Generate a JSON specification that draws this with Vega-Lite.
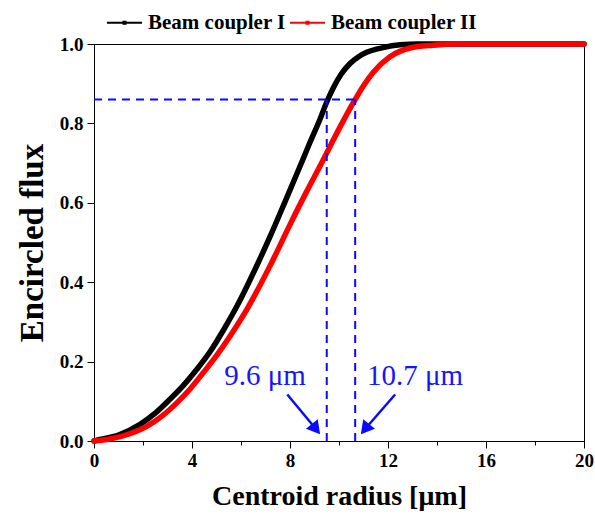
{
  "$schema": "https://vega.github.io/schema/vega-lite/v6.json",
  "width": 490,
  "height": 397,
  "autosize": "none",
  "padding": {"left": 94, "top": 44, "right": 11, "bottom": 80},
  "background": "white",
  "config": {
    "view": {"stroke": "#000", "strokeWidth": 1},
    "font": "Liberation Serif"
  },
  "datasets": {
    "curves": [
      {"r": 0, "flux": 0, "series": "Beam coupler I"},
      {"r": 0.24, "flux": 0.004, "series": "Beam coupler I"},
      {"r": 1.0, "flux": 0.015, "series": "Beam coupler I"},
      {"r": 1.88, "flux": 0.042, "series": "Beam coupler I"},
      {"r": 2.5, "flux": 0.07, "series": "Beam coupler I"},
      {"r": 3.1, "flux": 0.105, "series": "Beam coupler I"},
      {"r": 3.65, "flux": 0.14, "series": "Beam coupler I"},
      {"r": 4.19, "flux": 0.18, "series": "Beam coupler I"},
      {"r": 4.75, "flux": 0.226, "series": "Beam coupler I"},
      {"r": 5.28, "flux": 0.279, "series": "Beam coupler I"},
      {"r": 5.82, "flux": 0.338, "series": "Beam coupler I"},
      {"r": 6.23, "flux": 0.388, "series": "Beam coupler I"},
      {"r": 6.7, "flux": 0.449, "series": "Beam coupler I"},
      {"r": 7.18, "flux": 0.514, "series": "Beam coupler I"},
      {"r": 7.8, "flux": 0.603, "series": "Beam coupler I"},
      {"r": 8.41, "flux": 0.692, "series": "Beam coupler I"},
      {"r": 8.8, "flux": 0.75, "series": "Beam coupler I"},
      {"r": 9.22, "flux": 0.81, "series": "Beam coupler I"},
      {"r": 9.5, "flux": 0.854, "series": "Beam coupler I"},
      {"r": 9.77, "flux": 0.89, "series": "Beam coupler I"},
      {"r": 10.1, "flux": 0.925, "series": "Beam coupler I"},
      {"r": 10.45, "flux": 0.951, "series": "Beam coupler I"},
      {"r": 10.8, "flux": 0.968, "series": "Beam coupler I"},
      {"r": 11.13, "flux": 0.979, "series": "Beam coupler I"},
      {"r": 11.8, "flux": 0.991, "series": "Beam coupler I"},
      {"r": 12.5, "flux": 0.998, "series": "Beam coupler I"},
      {"r": 13.2, "flux": 1.0, "series": "Beam coupler I"},
      {"r": 20, "flux": 1.0, "series": "Beam coupler I"},
      {"r": 0, "flux": 0, "series": "Beam coupler II"},
      {"r": 0.65, "flux": 0.005, "series": "Beam coupler II"},
      {"r": 1.4, "flux": 0.017, "series": "Beam coupler II"},
      {"r": 2.15, "flux": 0.037, "series": "Beam coupler II"},
      {"r": 2.8, "flux": 0.064, "series": "Beam coupler II"},
      {"r": 3.38, "flux": 0.096, "series": "Beam coupler II"},
      {"r": 3.95, "flux": 0.133, "series": "Beam coupler II"},
      {"r": 4.46, "flux": 0.172, "series": "Beam coupler II"},
      {"r": 5.0, "flux": 0.215, "series": "Beam coupler II"},
      {"r": 5.55, "flux": 0.264, "series": "Beam coupler II"},
      {"r": 6.3, "flux": 0.338, "series": "Beam coupler II"},
      {"r": 7.2, "flux": 0.443, "series": "Beam coupler II"},
      {"r": 8.0, "flux": 0.545, "series": "Beam coupler II"},
      {"r": 8.65, "flux": 0.625, "series": "Beam coupler II"},
      {"r": 9.29, "flux": 0.7, "series": "Beam coupler II"},
      {"r": 9.7, "flux": 0.75, "series": "Beam coupler II"},
      {"r": 10.18, "flux": 0.807, "series": "Beam coupler II"},
      {"r": 10.62, "flux": 0.856, "series": "Beam coupler II"},
      {"r": 11.0, "flux": 0.895, "series": "Beam coupler II"},
      {"r": 11.4, "flux": 0.929, "series": "Beam coupler II"},
      {"r": 12.08, "flux": 0.968, "series": "Beam coupler II"},
      {"r": 12.9, "flux": 0.99, "series": "Beam coupler II"},
      {"r": 13.85, "flux": 0.997, "series": "Beam coupler II"},
      {"r": 14.8, "flux": 1.0, "series": "Beam coupler II"},
      {"r": 20, "flux": 1.0, "series": "Beam coupler II"}
    ],
    "guides": [
      {"x": 0, "x2": 10.66, "y": 0.86, "y2": 0.86},
      {"x": 9.5, "x2": 9.5, "y": 0, "y2": 0.86},
      {"x": 10.66, "x2": 10.66, "y": 0, "y2": 0.86}
    ],
    "arrows": [
      {"x": 7.89, "y": 0.117, "x2": 9.1, "y2": 0.027},
      {"x": 12.29, "y": 0.117, "x2": 11.02, "y2": 0.027}
    ],
    "labels": [
      {"x": 6.98, "y": 0.142, "text": "9.6 μm"},
      {"x": 13.1, "y": 0.142, "text": "10.7 μm"}
    ],
    "headL": [{"x": 9.06, "y": 0.03}],
    "headR": [{"x": 11.06, "y": 0.03}]
  },
  "layer": [
    {
      "data": {"name": "curves"},
      "mark": {"type": "line", "strokeWidth": 5.5, "strokeCap": "round", "strokeJoin": "round", "interpolate": "monotone"},
      "encoding": {
        "x": {
          "field": "r", "type": "quantitative",
          "scale": {"domain": [0, 20], "nice": false, "zero": false},
          "axis": {
            "title": "Centroid radius [μm]",
            "values": [0, 2, 4, 6, 8, 10, 12, 14, 16, 18, 20],
            "labelExpr": "datum.value % 4 === 0 ? datum.label : ''",
            "grid": false,
            "domainColor": "#000",
            "tickColor": "#000",
            "tickSize": {"condition": {"test": "datum.value % 4 === 0", "value": 7}, "value": 4},
            "labelFont": "Liberation Serif",
            "labelFontWeight": "bold",
            "labelFontSize": 19,
            "labelColor": "#000",
            "labelPadding": 3,
            "labelFlush": false,
            "titleFont": "Liberation Serif",
            "titleFontWeight": "bold",
            "titleFontSize": 28,
            "titleColor": "#000",
            "titlePadding": 12
          }
        },
        "y": {
          "field": "flux", "type": "quantitative",
          "scale": {"domain": [0, 1], "nice": false},
          "axis": {
            "title": "Encircled flux",
            "values": [0, 0.1, 0.2, 0.3, 0.4, 0.5, 0.6, 0.7, 0.8, 0.9, 1.0],
            "format": ".1f",
            "labelExpr": "round(datum.value * 10) % 2 === 0 ? datum.label : ''",
            "grid": false,
            "domainColor": "#000",
            "tickColor": "#000",
            "tickSize": {"condition": {"test": "round(datum.value * 10) % 2 === 0", "value": 7}, "value": 4},
            "labelFont": "Liberation Serif",
            "labelFontWeight": "bold",
            "labelFontSize": 19,
            "labelColor": "#000",
            "labelPadding": 4,
            "labelFlush": false,
            "titleFont": "Liberation Serif",
            "titleFontWeight": "bold",
            "titleFontSize": 33,
            "titleColor": "#000",
            "titlePadding": 10
          }
        },
        "color": {
          "field": "series", "type": "nominal",
          "scale": {"domain": ["Beam coupler I", "Beam coupler II"], "range": ["#000000", "#ff0000"]},
          "legend": {
            "title": null,
            "orient": "none",
            "legendX": 12,
            "legendY": -40,
            "direction": "horizontal",
            "symbolType": "M-1,0H1M-0.06,-0.06H0.06V0.06H-0.06Z",
            "symbolStrokeWidth": 2,
            "symbolSize": 1225,
            "labelFont": "Liberation Serif",
            "labelFontWeight": "bold",
            "labelFontSize": 21,
            "labelColor": "#000",
            "labelOffset": 5,
            "columnPadding": 0
          }
        }
      }
    },
    {
      "data": {"name": "guides"},
      "mark": {"type": "rule", "color": "#0a0aff", "strokeWidth": 2, "strokeDash": [8, 6]},
      "encoding": {
        "x": {"field": "x", "type": "quantitative"},
        "x2": {"field": "x2"},
        "y": {"field": "y", "type": "quantitative"},
        "y2": {"field": "y2"}
      }
    },
    {
      "data": {"name": "arrows"},
      "mark": {"type": "rule", "color": "#0a0aff", "strokeWidth": 2.5},
      "encoding": {
        "x": {"field": "x", "type": "quantitative"},
        "x2": {"field": "x2"},
        "y": {"field": "y", "type": "quantitative"},
        "y2": {"field": "y2"}
      }
    },
    {
      "data": {"name": "headL"},
      "mark": {"type": "point", "shape": "triangle-up", "filled": true, "color": "#0a0aff", "opacity": 1, "size": 230, "angle": 141},
      "encoding": {
        "x": {"field": "x", "type": "quantitative"},
        "y": {"field": "y", "type": "quantitative"}
      }
    },
    {
      "data": {"name": "headR"},
      "mark": {"type": "point", "shape": "triangle-up", "filled": true, "color": "#0a0aff", "opacity": 1, "size": 230, "angle": 219},
      "encoding": {
        "x": {"field": "x", "type": "quantitative"},
        "y": {"field": "y", "type": "quantitative"}
      }
    },
    {
      "data": {"name": "labels"},
      "mark": {"type": "text", "color": "#1515ff", "font": "Liberation Serif", "fontSize": 29, "baseline": "alphabetic", "align": "center"},
      "encoding": {
        "x": {"field": "x", "type": "quantitative"},
        "y": {"field": "y", "type": "quantitative"},
        "text": {"field": "text"}
      }
    }
  ]
}
